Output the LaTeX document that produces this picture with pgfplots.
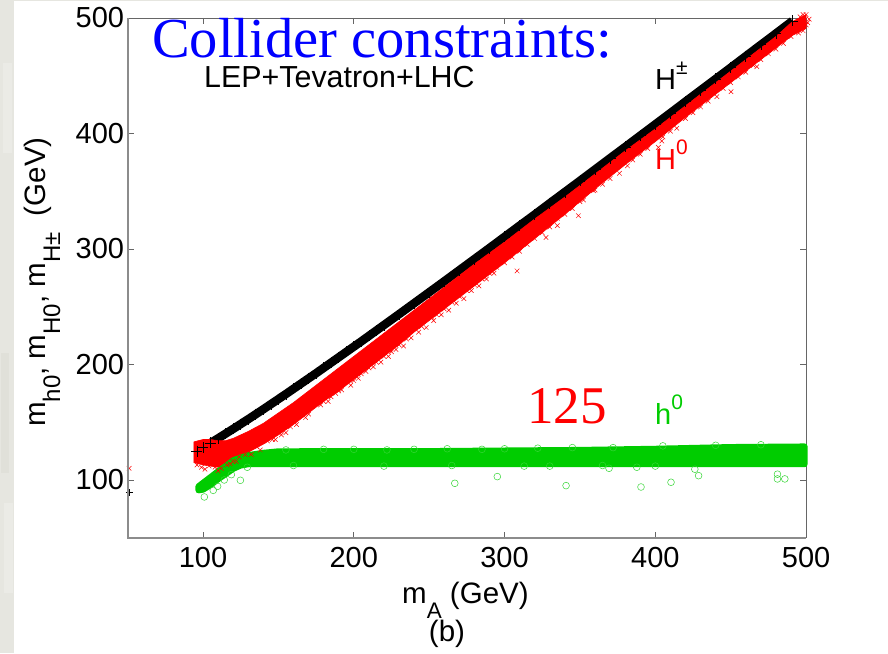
\documentclass[border=0pt]{standalone}
\usepackage{pgfplots}
\pgfplotsset{compat=1.18}
\usepackage{fontspec}
\setmainfont{Liberation Sans}
\newfontfamily\serif{Liberation Serif}
\newcommand{\fs}[1]{\fontsize{#1}{#1}\selectfont}
\newcommand{\low}[2]{\raisebox{-15pt}{\fs{#1}#2}}
\newcommand{\up}[1]{\raisebox{15pt}{\fs{21}#1}}
\definecolor{grn}{RGB}{0,204,0}
\definecolor{bgg}{RGB}{230,230,224}
\definecolor{bgd}{RGB}{224,224,217}
\definecolor{bgl}{RGB}{235,235,230}
\definecolor{axg}{RGB}{140,140,140}
\begin{document}
\begin{tikzpicture}[x=1pt,y=1pt]
\path[use as bounding box] (0,0) rectangle (888,653);
\fill[white] (0,0) rectangle (888,653);
\fill[bgg] (0,0) rectangle (14,653);
\fill[bgg] (0,652) rectangle (888,653);
\fill[bgl] (3,500) rectangle (12,590);
\fill[bgd] (1,180) rectangle (9,300);
\fill[bgl] (4,60) rectangle (13,150);
\begin{axis}[
  at={(127.6pt,115.3pt)},anchor=south west,scale only axis,
  width=678.5pt,height=519.7pt,
  xmin=50,xmax=500,ymin=50,ymax=500,
  clip=false,
  xtick={100,200,300,400,500},ytick={100,200,300,400,500},
  tick align=inside,major tick length=6pt,
  tick style={color=black!60,line width=.6pt},
  axis line style={draw=black!60,line width=.7pt},
  /pgf/number format/assume math mode=true,
  tick label style={font=\fs{29}},
  xticklabel style={yshift=-6pt},
  yticklabel style={xshift=0pt},
]
% H+- band (centre of the black strip)
\addplot[black,line width=8.5pt,line join=round,mark=+,mark size=5.5,mark options={line width=.6pt}] coordinates {
(96,125)(100,128.1)(105,132)(110,136)(115,140.1)(120,144.2)(125,148.4)(130,152.6)(135,156.9)(140,161.2)(145,165.6)(150,170)(155,174.4)(160,178.9)(165,183.4)(170,187.9)(175,192.4)(180,197)(185,201.6)(190,206.2)(195,210.8)(200,215.4)(205,220)(210,224.7)(215,229.4)(220,234.1)(230,243.5)(240,253)(250,262.5)(260,272)(270,281.6)(280,291.2)(290,300.8)(300,310.5)(310,320.2)(320,329.8)(330,339.6)(340,349.3)(350,359)(360,368.8)(370,378.6)(380,388.3)(390,398.1)(400,407.9)(410,417.7)(420,427.6)(430,437.4)(440,447.2)(450,457)(460,466.9)(470,476.8)(480,486.6)(491,497.5)};
% H0 band
\addplot[fill=red,draw=red,line width=.6pt] coordinates {
(94,133)(100,135)(105,135)(110,134)(115,134)(120,136)(125,139)(130,142)(140,149)(150,158)(160,167)(170,177)(180,187)(190,197)(200,207)(210,217)(220,227)(230,237)(240,247)(250,257)(260,267)(280,287)(300,306)(320,326)(340,345)(360,365)(380,385)(400,404)(420,424)(440,444)(460,464)(480,484)(491,497)(500,503)
(500,491)(491,485)(480,474)(460,454)(440,434)(420,414)(400,393)(380,373)(360,352)(340,330)(320,309)(300,288)(280,268)(260,248)(250,238)(240,228)(230,217)(220,207)(210,197)(200,187)(190,177)(180,168)(170,158)(160,148)(150,139)(140,131)(130,124)(125,121)(120,117)(115,113)(110,111)(105,112)(100,113)(94,115)} --cycle;
% H0 scatter along the edges and outliers
\addplot[only marks,red,mark=x,mark size=3.2,mark options={line width=.5pt}] coordinates {
(51,110.1)(96,113)(99,111)(101.3,109.3)(104,112)(108,111)(112,110)(116,113)(120,116)(124,120)(128,122)(135.6,128.8)(142.7,133.8)(146,135)(152,139)(158,146)(165.5,156.3)(170,157)(175.4,169.3)(180,168)(185,172)(190,177)(194.2,186.6)(200,186)(205,192)(210,197)(215,202)(220,207)(225,211)(230,217)(235,222)(245,233)(251.7,240.9)(255,243)(260,248)(265,254)(270,259)(275,264)(280,269)(285,274)(294.8,284.1)(290,279)(300,288)(305,293)(310,298)(315,304)(327.5,310)(308.3,281)(320,309)(325,314)(330,319)(335,326.6)(335,320.2)(349,328.8)(340,330)(345,335)(352.3,342.4)(350,341)(358.9,350.5)(360,351)(365,356)(370,361)(376.2,365.5)(381.5,372)(385,377)(390,382)(395,387)(402,388)(404.3,393.5)(405,397)(410,402)(414.2,404.5)(420,413)(425,418)(430,423)(440.8,431.9)(435,428)(450.2,436.2)(445,439)(450,444)(455,449)(460,453)(467.3,457.9)(465,459)(470,464)(475,469)(480,473)(485,478)(490,484)(495,487)(498,489)(500,494)(500,503)(498,503)(496,501)(502,499)(501,496)
(97,118)(103,115)(110,108)(118,114)(122,116)(132,122)(138,126)(148,135)(155,141)(162,148)(168,154)(178,165)(183,168)(188,175)(192,178)(198,182)(203,188)(208,194)(213,198)(218,202)(223,207)(228,213)(233,216)(238,223)(243,228)(248,232)(253,238)(258,243)(263,247)(268,253)(273,257)(278,264)(283,268)(288,274)(293,279)};
% h0 band
\addplot[fill=grn,draw=grn,line width=6pt,line join=round] coordinates {
(97,94.5)(100,97.5)(105,102.5)(110,107.5)(115,112)(120,117)(125,119.5)(130,121.5)(140,123.5)(150,124.8)(200,125)(250,125)(300,125.5)(350,126)(400,127)(450,128.5)(499,129)
(499,113.6)(450,113.6)(400,113.6)(350,113.6)(300,113.6)(250,113.6)(200,113.6)(150,113.6)(140,113.6)(130,113.6)(125,112.5)(120,109.6)(115,105)(110,100.6)(105,95.5)(100,91.6)(97,91)} --cycle;
% h0 outliers and edge points
\addplot[only marks,grn,mark=o,mark size=3.4,mark options={line width=.5pt,draw=grn!80!white}] coordinates {
(267,97.1)(295.2,102.9)(340.8,95.1)(369.3,110.1)(387.7,111)(390.5,93.9)(410.4,98)(426.2,109.3)(428.7,103.7)(481,105)(481,100.9)(485.9,100.9)(313,112)
(100.9,85.3)(106.8,91)(109.7,94.5)(114.1,100)(118.8,104.6)(124.8,99.7)(129.4,111)
(155,126)(180,126.5)(200,126.5)(222,126)(240,126.5)(262,127)(285,126.5)(300,127)(322,127.5)(345,128)(372,128)(405,129.5)(440,130)(470,130.5)
(160,112.5)(220,112)(265,112.5)(330,112)(365,112.5)(400,112)};
% black outlier
\addplot[only marks,black,mark=+,mark size=3.5,mark options={line width=.5pt}] coordinates {(51.1,89)};
\end{axis}
\draw[axg,line width=2pt] (127.6,653-18) -- (127.6,115.3) -- (806.1,115.3);
\node[anchor=base west,inner sep=0pt,text=blue] at (152,653-58) {\serif\fs{56.5}Collider constraints:};
\node[anchor=base west,inner sep=0pt] at (204,653-88) {\fs{30.4}LEP+Tevatron+LHC};
\node[anchor=base west,inner sep=0pt] at (655,653-90) {\fs{29}H\up{±}};
\node[anchor=base west,inner sep=0pt,text=red] at (655,653-170) {\fs{29}H\up{0}};
\node[anchor=base west,inner sep=0pt,text=red] at (527,653-424) {\serif\fs{53}125};
\node[anchor=base west,inner sep=0pt,text=grn] at (655,653-425) {\fs{29}h\up{0}};
\node[anchor=base west,inner sep=0pt] at (402,653-603) {\fs{29.5}m\low{22.5}{A}\ (GeV)};
\node[anchor=base,inner sep=0pt] at (447,653-641) {\fs{29.5}(b)};
\node[anchor=base west,inner sep=0pt,rotate=90] at (45,653-427) {\fs{29.5}m\low{24}{h0}, m\low{24}{H0}, m\low{24}{H±}\ \ (GeV)};
\end{tikzpicture}
\end{document}
